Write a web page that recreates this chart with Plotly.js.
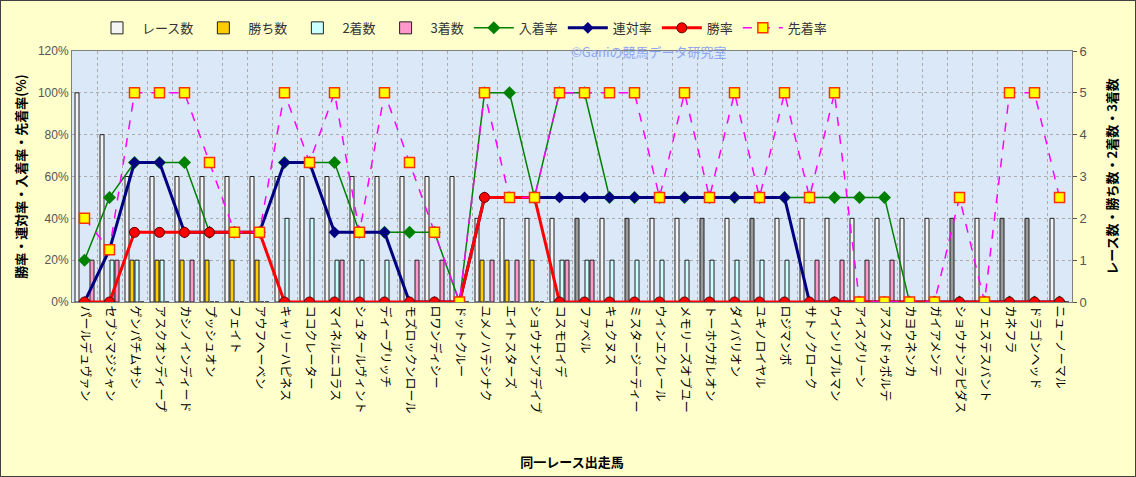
<!DOCTYPE html>
<html><head><meta charset="utf-8">
<script src="https://cdn.plot.ly/plotly-3.0.1.min.js"></script>
<style>
html,body{margin:0;padding:0;background:#FFFFCC;}
#wrap{width:1134px;height:475px;border:1px solid #404040;}
#chart{width:1134px;height:475px;}
</style></head>
<body><div id="wrap"><div id="chart"></div></div>
<script>
const horses = ["パールデュヴァン","セブンマジシャン","ゲンパチムサシ","アスクオンディープ","カシノインディード","プッシュオン","フェイト","アウフヘーベン","キャリーハピネス","ココクレーター","マイネルニコラス","シュタールヴィント","ディープリッチ","モズロックンロール","ロワンディシー","ドットクルー","ユメノハテシナク","エイトスターズ","ショウナンアデイブ","コスモロイデ","ファベル","キュクヌス","ミスタージーティー","ウインエクレール","メモリーズオブユー","トーホウガレオン","ダイバリオン","ユキノロイヤル","ロジマンボ","サトノクローク","ウインリプルマン","アイスグリーン","アスクドゥポルテ","カヨウネンカ","ガイアメンテ","ショウナンラピダス","フェステスバント","カネフラ","ドラゴンヘッド","ニューノーマル"];
const raceCounts = [5,4,3,3,3,3,3,3,3,3,3,3,3,3,3,3,2,2,2,2,2,2,2,2,2,2,2,2,2,2,2,2,2,2,2,2,2,2,2,2];
const winCounts  = [0,0,1,1,1,1,1,1,0,0,0,0,0,0,0,0,1,1,1,0,0,0,0,0,0,0,0,0,0,0,0,0,0,0,0,0,0,0,0,0];
const secondCounts = [0,1,1,1,0,0,0,0,2,2,1,1,1,0,0,0,0,0,0,1,1,1,1,1,1,1,1,1,1,0,0,0,0,0,0,0,0,0,0,0];
const thirdCounts  = [1,1,0,0,1,0,0,0,0,0,1,0,0,1,1,0,1,1,0,1,1,0,0,0,0,0,0,0,0,1,1,1,1,0,0,0,0,0,0,0];
const placeRate  = [20,50,66.7,66.7,66.7,33.3,33.3,33.3,66.7,66.7,66.7,33.3,33.3,33.3,33.3,0,100,100,50,100,100,50,50,50,50,50,50,50,50,50,50,50,50,0,0,0,0,0,0,0];
const rentaiRate = [0,25,66.7,66.7,33.3,33.3,33.3,33.3,66.7,66.7,33.3,33.3,33.3,0,0,0,50,50,50,50,50,50,50,50,50,50,50,50,50,0,0,0,0,0,0,0,0,0,0,0];
const winRate    = [0,0,33.3,33.3,33.3,33.3,33.3,33.3,0,0,0,0,0,0,0,0,50,50,50,0,0,0,0,0,0,0,0,0,0,0,0,0,0,0,0,0,0,0,0,0];
const aheadRate  = [40,25,100,100,100,66.7,33.3,33.3,100,66.7,100,33.3,100,66.7,33.3,0,100,50,50,100,100,100,100,50,100,50,100,50,100,50,100,0,0,0,0,50,0,100,100,50];

// style: which race-count bars are drawn darker
const darkBarHorses = ["ファベル","ミスタージーティー","トーホウガレオン","ユキノロイヤル","ショウナンラピダス","カネフラ","ドラゴンヘッド"];
const raceBarColors = horses.map(h => darkBarHorses.includes(h) ? "#9a9a9a" : "#f4f4f4");

const jp = '"Noto Sans CJK JP", "Noto Sans", sans-serif';
const pct = a => a.map(v => v/100);
const barLine = {color:"#202020", width:1};

const traces = [
  {type:"bar", name:"レース数", x:horses, y:raceCounts, yaxis:"y", marker:{color:raceBarColors, line:barLine}},
  {type:"bar", name:"勝ち数", x:horses, y:winCounts, yaxis:"y", marker:{color:"#FFCC00", line:barLine}},
  {type:"bar", name:"2着数", x:horses, y:secondCounts, yaxis:"y", marker:{color:"#CCFFFF", line:barLine}},
  {type:"bar", name:"3着数", x:horses, y:thirdCounts, yaxis:"y", marker:{color:"#FF99CC", line:barLine}},
  {type:"scatter", mode:"lines+markers", name:"入着率", x:horses, y:pct(placeRate), yaxis:"y2",
   line:{color:"#008000", width:1.5}, marker:{symbol:"diamond", size:10, color:"#008000"}},
  {type:"scatter", mode:"lines+markers", name:"連対率", x:horses, y:pct(rentaiRate), yaxis:"y2",
   line:{color:"#000080", width:3}, marker:{symbol:"diamond", size:9, color:"#000080"}},
  {type:"scatter", mode:"lines+markers", name:"勝率", x:horses, y:pct(winRate), yaxis:"y2",
   line:{color:"#FF0000", width:3}, marker:{symbol:"circle", size:10, color:"#FF0000", line:{color:"#600000", width:1}}},
  {type:"scatter", mode:"lines+markers", name:"先着率", x:horses, y:pct(aheadRate), yaxis:"y2",
   line:{color:"#FF00FF", width:1.5, dash:"dash"}, marker:{symbol:"square", size:10, color:"#FFFF00", line:{color:"#FF3300", width:1.5}}}
];

const layout = {
  width:1134, height:475,
  paper_bgcolor:"#FFFFCC", plot_bgcolor:"#DAE8F8",
  margin:{l:71, r:63, t:40, b:174},
  font:{family:jp, size:12, color:"#000"},
  barmode:"group", bargap:0.2, bargroupgap:0.2,
  showlegend:true,
  legend:{orientation:"h", x:0.02, xanchor:"left", y:1.092, yanchor:"middle", bgcolor:"rgba(0,0,0,0)",
          font:{family:jp, size:13, color:"#333"}, itemwidth:40, traceorder:"normal"},
  xaxis:{type:"category", range:[-0.5, horses.length-0.5], automargin:false, tickangle:90, tickson:"boundaries", showgrid:true, gridcolor:"#ababab", griddash:"dot", gridwidth:1,
         ticks:"", showline:true, linecolor:"#808080", mirror:true,
         tickfont:{family:jp, size:12, color:"#000"},
         title:{text:"同一レース出走馬", font:{family:jp, size:13, color:"#000", weight:"bold"}, standoff:45}},
  yaxis:{side:"right", automargin:false, range:[0,6], dtick:1, showgrid:true, gridcolor:"#ababab", griddash:"dot", gridwidth:1,
         ticks:"outside", ticklen:4, tickcolor:"#555", showline:true, linecolor:"#808080", zeroline:false,
         tickfont:{family:"Liberation Sans, sans-serif", size:13, color:"#555"},
         title:{text:"レース数・勝ち数・2着数・3着数", font:{family:jp, size:13, color:"#000", weight:"bold"}, standoff:22}},
  yaxis2:{overlaying:"y", side:"left", automargin:false, range:[0,1.2], dtick:0.2, tickformat:".0%", showgrid:false, zeroline:false,
          showline:true, linecolor:"#808080", ticks:"",
          tickfont:{family:"Liberation Sans, sans-serif", size:12, color:"#555"},
          title:{text:"勝率・連対率・入着率・先着率(%)", font:{family:jp, size:13, color:"#000", weight:"bold"}, standoff:8}},
  annotations:[{xref:"paper", yref:"paper", x:0.577, y:1.0, xanchor:"center", yanchor:"middle", showarrow:false,
    text:"©Ganiの競馬データ研究室", font:{family:jp, size:13, color:"#8FA5F0"}}]
};

Plotly.newPlot("chart", traces, layout, {displayModeBar:false, responsive:false});
</script></body></html>
